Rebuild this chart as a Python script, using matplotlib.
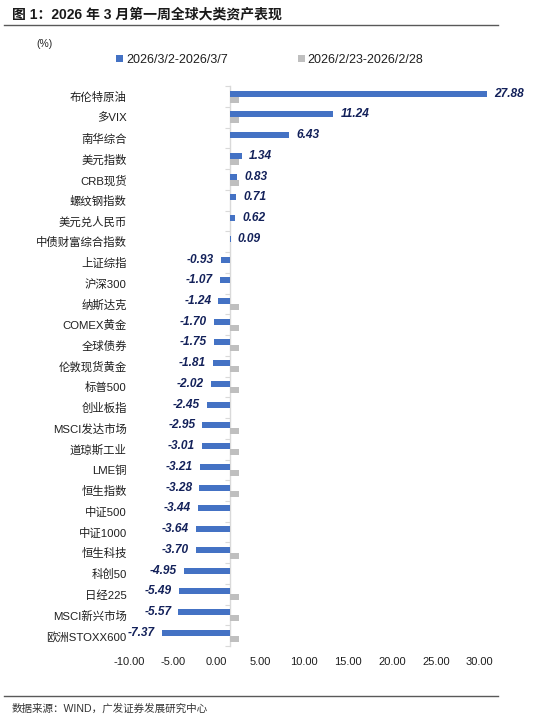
import numpy as np
import matplotlib
matplotlib.use("Agg")
import matplotlib.pyplot as plt
from matplotlib.lines import Line2D
from matplotlib.ticker import FormatStrFormatter

plt.rcParams['font.family'] = ['Liberation Sans', 'Noto Sans CJK SC', 'DejaVu Sans']

categories = ["布伦特原油", "多VIX", "南华综合", "美元指数", "CRB现货", "螺纹钢指数",
              "美元兑人民币", "中债财富综合指数", "上证综指", "沪深300", "纳斯达克",
              "COMEX黄金", "全球债券", "伦敦现货黄金", "标普500", "创业板指",
              "MSCI发达市场", "道琼斯工业", "LME铜", "恒生指数", "中证500", "中证1000",
              "恒生科技", "科创50", "日经225", "MSCI新兴市场", "欧洲STOXX600"]
current_week = [27.88, 11.24, 6.43, 1.34, 0.83, 0.71, 0.62, 0.09, -0.93, -1.07, -1.24,
                -1.70, -1.75, -1.81, -2.02, -2.45, -2.95, -3.01, -3.21, -3.28, -3.44,
                -3.64, -3.70, -4.95, -5.49, -5.57, -7.37]
nan = np.nan
previous_week = [1.0, 1.0, nan, 1.0, 1.05, nan, nan, nan, nan, nan, 1.0,
                 1.0, 1.0, 1.0, 1.0, nan, 1.0, 1.0, 1.0, 1.0, nan,
                 nan, 1.0, nan, 1.0, 1.0, 1.0]
series_names = ["2026/3/2-2026/3/7", "2026/2/23-2026/2/28"]
x_ticks = [-10, -5, 0, 5, 10, 15, 20, 25, 30]

W, H = 550, 716
fig = plt.figure(figsize=(W / 100, H / 100), dpi=100)

scale = 9.23      # px per unit
x0px = 229.7      # px of zero
xmin, xmax = -11, 30
left_px = x0px + scale * xmin
right_px = x0px + scale * xmax
top_px, bot_px = 86.3, 646.1
ax = fig.add_axes([left_px / W, 1 - bot_px / H, (right_px - left_px) / W, (bot_px - top_px) / H])

n = len(categories)
y = np.arange(n)
bh = 0.29
off = 0.145
ax.barh(y - off, current_week, height=bh, color='#4472C4', label=series_names[0], zorder=2)
ax.barh(y + off, previous_week, height=bh, color='#BFBFBF', label=series_names[1], zorder=2)
ax.set_xlim(xmin, xmax)
ax.set_ylim(n - 0.5, -0.5)
for s in ax.spines.values():
    s.set_visible(False)
ax.set_xticks([])
ax.set_yticks(y)
ax.set_yticklabels(categories, fontsize=8.2, color='#1f1f1f')
ax.tick_params(axis='y', length=0, pad=1)

# vertical axis at zero with boundary ticks
sec_y = ax.secondary_yaxis((0 - xmin) / (xmax - xmin))
sec_y.set_yticks(np.arange(-0.5, n, 1.0))
sec_y.set_yticklabels([])
sec_y.tick_params(axis='y', length=3.5, color='#D9D9D9', width=0.8, direction='out')
sec_y.spines['left'].set_color('#D9D9D9')
sec_y.spines['left'].set_linewidth(1.0)

# x tick labels as rendered in the reference
lab0 = 216.7
lab_scale = 8.77
def fwd(x):
    return (x0px + scale * np.asarray(x) - lab0) / lab_scale
def inv(v):
    return (lab0 + lab_scale * np.asarray(v) - x0px) / scale
sec_x = ax.secondary_xaxis('bottom', functions=(fwd, inv))
sec_x.set_xticks(x_ticks)
sec_x.xaxis.set_major_formatter(FormatStrFormatter('%.2f'))
sec_x.tick_params(axis='x', length=0, pad=8, labelsize=8, labelcolor='#1f1f1f')
for s in sec_x.spines.values():
    s.set_visible(False)

# value labels
for i, v in enumerate(current_week):
    if v >= 0:
        ax.annotate(f"{v:.2f}", xy=(v, i - off), xytext=(5, 0), textcoords='offset points',
                    ha='left', va='center', fontsize=8.6, fontweight='bold', fontstyle='italic',
                    color='#13215A')
    else:
        ax.annotate(f"{v:.2f}", xy=(v, i - off), xytext=(-5, 0), textcoords='offset points',
                    ha='right', va='center', fontsize=8.6, fontweight='bold', fontstyle='italic',
                    color='#13215A')

# legend
leg = fig.legend(loc='center left', bbox_to_anchor=(116 / W, 1 - 60 / H), ncol=2,
                 frameon=False, fontsize=9, handlelength=0.55, handleheight=0.55,
                 handletextpad=0.25, columnspacing=5.6, borderpad=0, borderaxespad=0)
for t in leg.get_texts():
    t.set_color('#1f1f1f')

# title & decorations
fig.text(12 / W, 1 - 15 / H, "图 1：2026 年 3 月第一周全球大类资产表现", fontsize=10,
         fontweight='bold', va='center', ha='left', color='#1a1a1a')
fig.add_artist(Line2D([4 / W, 498 / W], [1 - 24.5 / H] * 2, color='#595959', lw=1))
fig.text(36 / W, 1 - 44 / H, "(%)", fontsize=7.5, va='center', ha='left', color='#262626')
fig.add_artist(Line2D([4 / W, 498 / W], [1 - 696 / H] * 2, color='#595959', lw=1))
fig.text(12 / W, 1 - 709 / H, "数据来源：WIND，广发证券发展研究中心", fontsize=7.6,
         va='center', ha='left', color='#333333')

fig.savefig("out.png", dpi=100)
